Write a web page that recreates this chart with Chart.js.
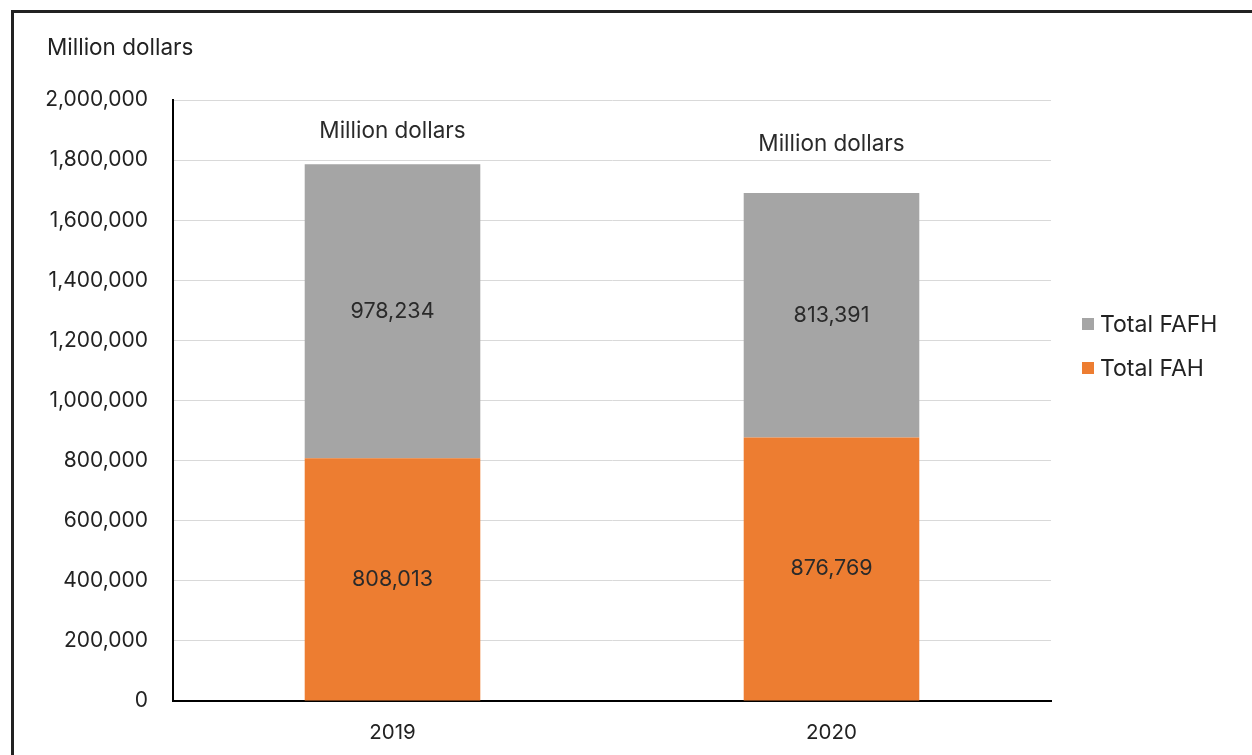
<!DOCTYPE html>
<html>
<head>
<meta charset="utf-8">
<script src="https://cdn.jsdelivr.net/npm/chart.js@4/dist/chart.umd.min.js"></script>
<style>
  html, body { margin: 0; padding: 0; background: #fff; overflow: hidden; }
  #wrap { position: relative; width: 1252px; height: 755px; }
  #frame { position: absolute; left: 11px; top: 10px; width: 1245px; height: 800px; border: 3px solid #222; box-sizing: border-box; }
  #chart { position: absolute; left: 0; top: 0; }
</style>
</head>
<body>
<div id="wrap">
  <div id="frame"></div>
  <canvas id="chart" width="1252" height="755"></canvas>
</div>
<script>
const years = ['2019', '2020'];
const fah = [808013, 876769];
const fafh = [978234, 813391];
const unitLabel = 'Million dollars';

const FONT = 'Inter, "Noto Sans", sans-serif';
const fmt = new Intl.NumberFormat('en-US');

// value labels in the middle of each segment + unit text over each stack
const barLabels = {
  id: 'barLabels',
  afterDatasetsDraw(chart, args, opts) {
    const ctx = chart.ctx;
    ctx.save();
    ctx.fillStyle = '#2a2a2a';
    ctx.textAlign = 'center';
    ctx.textBaseline = 'middle';
    ctx.font = '21.5px ' + FONT;
    chart.data.datasets.forEach((ds, di) => {
      chart.getDatasetMeta(di).data.forEach((bar, i) => {
        ctx.fillText(fmt.format(ds.data[i]), bar.x, (bar.y + bar.base) / 2);
      });
    });
    ctx.font = '22.5px ' + FONT;
    const top = chart.getDatasetMeta(chart.data.datasets.length - 1).data;
    top.forEach((bar, i) => {
      ctx.fillText(unitLabel, bar.x, bar.y - opts.offsets[i]);
    });
    ctx.restore();
  }
};

// unit caption top-left and legend on the right
const extras = {
  id: 'extras',
  afterDraw(chart) {
    const ctx = chart.ctx;
    ctx.save();
    ctx.font = '22.5px ' + FONT;
    ctx.fillStyle = '#222';
    ctx.textBaseline = 'middle';
    ctx.textAlign = 'left';
    ctx.fillText(unitLabel, 47, 48);

    const items = [
      { text: 'Total FAFH', color: '#a5a5a5', y: 324 },
      { text: 'Total FAH', color: '#ed7d31', y: 368 }
    ];
    ctx.font = '23px ' + FONT;
    items.forEach(it => {
      ctx.fillStyle = it.color;
      ctx.fillRect(1082, it.y - 6, 12, 12);
      ctx.fillStyle = '#222';
      ctx.fillText(it.text, 1100, it.y + 1);
    });
    ctx.restore();
  }
};

new Chart(document.getElementById('chart'), {
  type: 'bar',
  data: {
    labels: years,
    datasets: [
      { label: 'Total FAH', data: fah, backgroundColor: '#ed7d31', barPercentage: 0.4, categoryPercentage: 1 },
      { label: 'Total FAFH', data: fafh, backgroundColor: '#a5a5a5', barPercentage: 0.4, categoryPercentage: 1 }
    ]
  },
  options: {
    responsive: false,
    animation: false,
    layout: { padding: { top: 100, right: 201, left: 0, bottom: 0 } },
    plugins: {
      legend: { display: false },
      tooltip: { enabled: false },
      barLabels: { offsets: [33, 49] }
    },
    scales: {
      x: {
        stacked: true,
        grid: { display: false, drawTicks: false },
        border: { color: '#000', width: 2 },
        ticks: { color: '#222', font: { family: FONT, size: 20.5 }, padding: 20 },
        afterFit(scale) { scale.height = 54; }
      },
      y: {
        stacked: true,
        min: 0,
        max: 2000000,
        grid: { color: '#d9d9d9', lineWidth: 1, drawTicks: false },
        border: { color: '#000', width: 2 },
        ticks: {
          stepSize: 200000,
          color: '#222',
          font: { family: FONT, size: 21 },
          padding: 25,
          callback: v => fmt.format(v)
        },
        afterFit(scale) { scale.width = 173; }
      }
    }
  },
  plugins: [barLabels, extras]
});
</script>
</body>
</html>
